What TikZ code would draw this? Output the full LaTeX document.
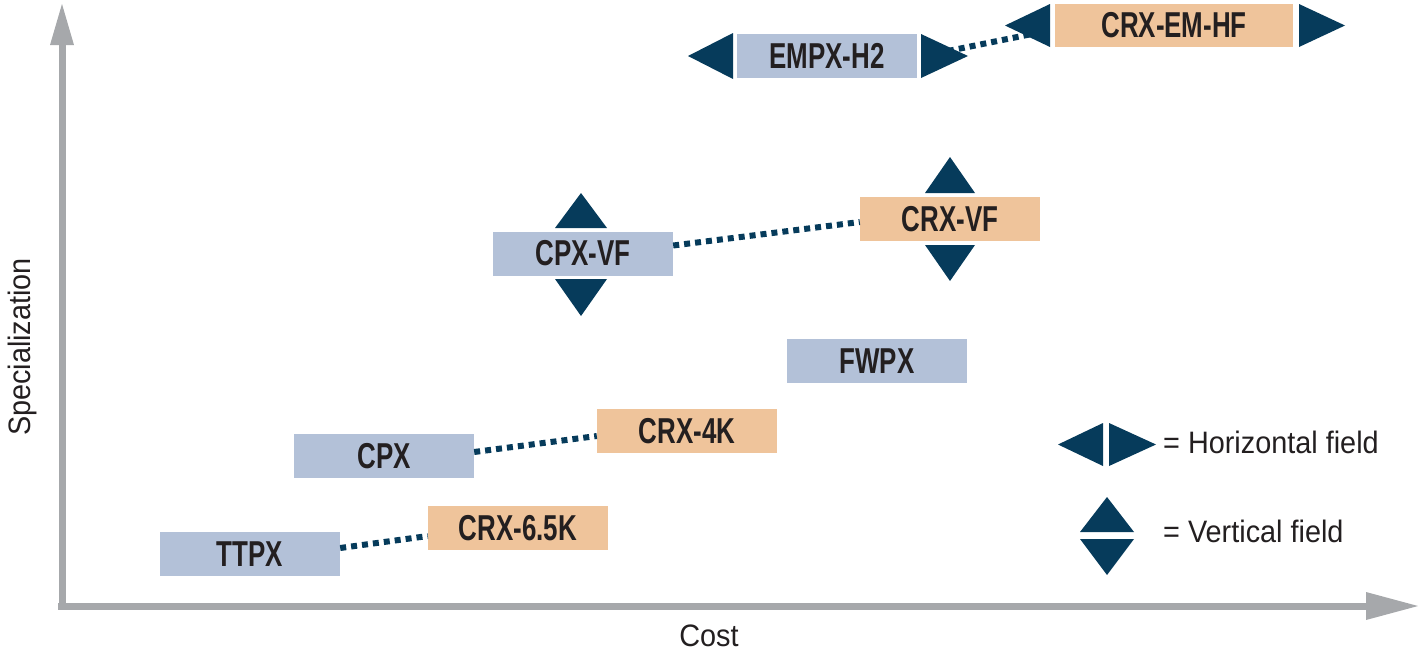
\documentclass[tikz,border=0pt]{standalone}
\usepackage{fontspec}
\setmainfont{Liberation Sans}
\newfontfamily\boxfont{Liberation Sans}[FakeStretch=0.72]
\newfontfamily\axfont{Liberation Sans}[FakeStretch=0.93]
\definecolor{bluebox}{HTML}{B3C1D8}
\definecolor{orangebox}{HTML}{EFC49B}
\definecolor{navy}{HTML}{063B5B}
\definecolor{axisgray}{HTML}{A6A8AB}
\definecolor{ink}{HTML}{231F20}
\tikzset{
  prodbox/.style={minimum width=180pt, minimum height=44pt, inner sep=0pt, text=ink,
    font=\boxfont\bfseries\fontsize{36}{40}\selectfont},
  bluep/.style={prodbox, fill=bluebox},
  orangep/.style={prodbox, fill=orangebox},
  link/.style={navy, line width=6pt, dash pattern=on 6pt off 5pt},
  axisline/.style={axisgray, line width=7pt},
  axislabel/.style={text=ink, inner sep=0pt, font=\axfont\fontsize{31}{36}\selectfont},
  tri/.style={fill=navy}
}
\begin{document}
\begin{tikzpicture}[x=1pt,y=-1pt]
\useasboundingbox (0,0) rectangle (1421,654);
% axes
\draw[axisline] (62,609) -- (62,40);
\draw[axisline] (58,606) -- (1370,606);
\fill[axisgray] (50,45) -- (62,4) -- (74,45) -- cycle;
\fill[axisgray] (1366,592) -- (1418,606) -- (1366,620) -- cycle;
\node[axislabel] (cost) at (709,636) {Cost};
\node[axislabel, rotate=90] (spec) at (22,347) {Specialization};

% boxes
\node[bluep] (empx) at (827,56) {EMPX-H2};
\node[orangep, minimum width=238pt, minimum height=43pt] (crxem) at (1174,25.5) {CRX-EM-HF};
\node[bluep] (cpxvf) at (583,253.5) {CPX-VF};
\node[orangep] (crxvf) at (950,219) {CRX-VF};
\node[bluep] (fwpx) at (877,361) {FWPX};
\node[bluep] (cpx) at (384,456) {CPX};
\node[orangep] (crx4k) at (687,431) {CRX-4K};
\node[bluep] (ttpx) at (250,554) {TTPX};
\node[orangep] (crx65) at (518,528) {CRX-6.5K};

% connectors
\coordinate (eR) at (948,51);
\coordinate (cL) at (1032,34);
\draw[link] (eR) -- (cL);
\draw[link] ([yshift=8pt]cpxvf.east) -- ([yshift=-3pt]crxvf.west);
\draw[link] ([yshift=4pt]cpx.east) -- ([yshift=-5pt]crx4k.west);
\draw[link] ([yshift=6pt]ttpx.east) -- ([yshift=-8pt]crx65.west);

% field triangles
\fill[tri] (688,56) -- (733,33) -- (733,79) -- cycle;
\fill[tri] (921,34) -- (968,56) -- (921,78) -- cycle;
\fill[tri] (1005,25.5) -- (1050,4) -- (1050,47) -- cycle;
\fill[tri] (1299,4) -- (1345,25.5) -- (1299,47) -- cycle;
\fill[tri] (555,228) -- (581,193) -- (607,228) -- cycle;
\fill[tri] (555,279) -- (581,316) -- (607,279) -- cycle;
\fill[tri] (925,193) -- (950,157) -- (975,193) -- cycle;
\fill[tri] (925,245) -- (950,281) -- (975,245) -- cycle;

% legend
\fill[tri] (1058,444.5) -- (1103,423) -- (1103,466) -- cycle;
\fill[tri] (1109,423) -- (1156,444.5) -- (1109,466) -- cycle;
\node[axislabel, anchor=west] (lh) at (1163,442) {= Horizontal field};
\fill[tri] (1080,532) -- (1107,497) -- (1134,532) -- cycle;
\fill[tri] (1080,539) -- (1107,575) -- (1134,539) -- cycle;
\node[axislabel, anchor=west] (lv) at (1163,531) {= Vertical field};
\end{tikzpicture}
\end{document}
